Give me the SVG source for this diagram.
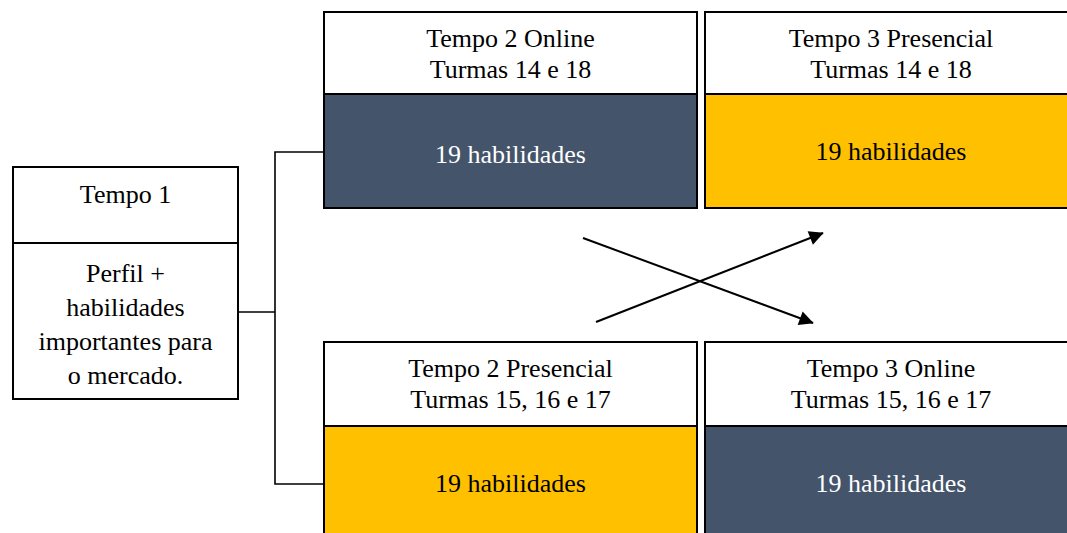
<svg xmlns="http://www.w3.org/2000/svg" width="1067" height="533" viewBox="0 0 1067 533">
  <style>
    text { font-family: "Liberation Serif", "Times New Roman", serif; font-size: 26px; text-anchor: middle; fill: #000; }
    .box { fill: #fff; stroke: #000; stroke-width: 2; }
    .dark { fill: #44546A; stroke: #000; stroke-width: 2; }
    .amber { fill: #FFC000; stroke: #000; stroke-width: 2; }
    .light { fill: #fff; }
    .wire { fill: none; stroke: #000; stroke-width: 1.6; }
    .arrow { fill: none; stroke: #000; stroke-width: 2; marker-end: url(#head); }
  </style>
  <defs>
    <marker id="head" viewBox="0 0 10 10" refX="9" refY="5" markerWidth="8" markerHeight="8" markerUnits="userSpaceOnUse" orient="auto" style="overflow:visible">
      <path d="M0,0 L10,5 L0,10 Z" fill="#000" transform="scale(1.8) translate(-4.5,-2.2)"/>
    </marker>
  </defs>

  <rect width="1067" height="533" fill="#fff"/>

  <!-- connectors -->
  <g id="connectors">
    <path class="wire" d="M238,312 H275 M324,152 H275 V484 H324"/>
    <line class="arrow" x1="583" y1="238" x2="813" y2="323"/>
    <line class="arrow" x1="596" y1="322" x2="823" y2="233"/>
  </g>

  <!-- Tempo 1 -->
  <g id="tempo1">
    <rect class="box" x="13" y="167" width="225" height="76"/>
    <rect class="box" x="13" y="243" width="225" height="156"/>
    <text x="125.5" y="203">Tempo 1</text>
    <text x="125.5" y="282">Perfil +</text>
    <text x="125.5" y="316">habilidades</text>
    <text x="125.5" y="350">importantes para</text>
    <text x="125.5" y="384">o mercado.</text>
  </g>

  <!-- Tempo 2 Online -->
  <g id="tempo2-online">
    <rect class="box" x="324" y="12" width="373" height="82"/>
    <rect class="dark" x="324" y="94" width="373" height="114"/>
    <text x="510.5" y="47">Tempo 2 Online</text>
    <text x="510.5" y="78">Turmas 14 e 18</text>
    <text class="light" x="510.5" y="163">19 habilidades</text>
  </g>

  <!-- Tempo 3 Presencial -->
  <g id="tempo3-presencial">
    <rect class="box" x="705" y="12" width="373" height="82"/>
    <rect class="amber" x="705" y="94" width="373" height="114"/>
    <text x="891" y="47">Tempo 3 Presencial</text>
    <text x="891" y="78">Turmas 14 e 18</text>
    <text x="891" y="160">19 habilidades</text>
  </g>

  <!-- Tempo 2 Presencial -->
  <g id="tempo2-presencial">
    <rect class="box" x="324" y="342" width="373" height="84"/>
    <rect class="amber" x="324" y="426" width="373" height="120"/>
    <text x="510.5" y="377">Tempo 2 Presencial</text>
    <text x="510.5" y="408">Turmas 15, 16 e 17</text>
    <text x="510.5" y="492">19 habilidades</text>
  </g>

  <!-- Tempo 3 Online -->
  <g id="tempo3-online">
    <rect class="box" x="705" y="342" width="373" height="84"/>
    <rect class="dark" x="705" y="426" width="373" height="120"/>
    <text x="891" y="377">Tempo 3 Online</text>
    <text x="891" y="408">Turmas 15, 16 e 17</text>
    <text class="light" x="891" y="492">19 habilidades</text>
  </g>
</svg>
